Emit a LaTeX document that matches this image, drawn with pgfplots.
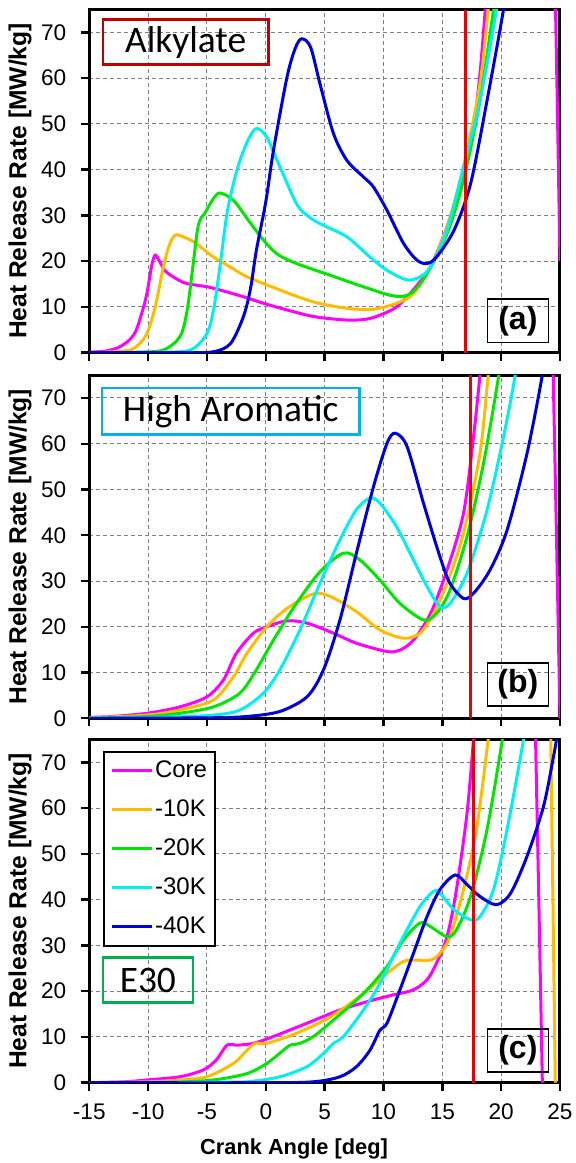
\documentclass[border=0pt]{standalone}
\usepackage{fontspec}
\setmainfont{Liberation Sans}
\newfontfamily\carlito{Carlito}
\usepackage{pgfplots}
\pgfplotsset{compat=1.18}
\definecolor{cCore}{RGB}{255,0,255}
\definecolor{cA}{RGB}{255,188,0}
\definecolor{cB}{RGB}{0,230,0}
\definecolor{cC}{RGB}{0,240,240}
\definecolor{cD}{RGB}{0,0,220}
\definecolor{cRed}{RGB}{235,0,0}
\definecolor{boxA}{RGB}{192,0,0}
\definecolor{boxB}{RGB}{0,176,240}
\definecolor{boxC}{RGB}{0,176,80}
\pgfplotsset{panel/.style={
  scale only axis, width=235.35pt, height=171.6pt, anchor=south west,
  xmin=-15, xmax=25, ymin=0, ymax=75,
  xtick={-15,-10,...,25}, ytick={0,10,...,70},
  xtick pos=left, ytick pos=left,
  tick align=outside, major tick length=4pt,
  axis line style={line width=1.5pt},
  every tick/.style={black, line width=1.2pt},
  grid=major, grid style={gray, dash pattern=on 2pt off 1.5pt, line width=0.5pt},
  ticklabel style={font=\fontsize{11.3}{12}\selectfont},
  yticklabel style={xshift=-4pt},
  xticklabel style={yshift=-3pt},
  /pgf/number format/assume math mode=true,
  ylabel={\bfseries Heat Release Rate [MW/kg]},
  y label style={font=\fontsize{12.3}{14}\selectfont, at={(axis description cs:-0.147,0.5)}, anchor=center},
  no markers,
  every axis plot/.append style={line width=1.5pt, smooth, tension=0.5},
}}
\begin{document}
\begin{tikzpicture}
\useasboundingbox (0,0) rectangle (288pt,581.5pt);
% ---------------- (a) Alkylate
\begin{axis}[panel, at={(44.65pt,405.15pt)}, xticklabels={}]
\addplot[cCore] coordinates {(-15,0.1) (-13.5,0.4) (-12.4,1.3) (-11.5,3) (-11,5) (-10.5,9) (-10.1,13) (-9.7,19) (-9.4,21.3) (-9.0,19.8) (-8.6,18) (-8.3,17.3) (-7.5,16) (-6.7,15.1) (-5,14.4) (-3.9,13.7) (-2,12.3) (-0.2,10.8) (2,9.2) (4.05,7.9) (6,7.3) (7.45,7.1) (8.7,7.4) (9.7,8.2) (11,9.8) (12,12.2) (13,15.2) (14,18.8) (15.4,27.5) (16.8,39) (17.6,48) (18.2,61) (18.65,75) (18.8,80)};
\addplot[cCore, forget plot] coordinates {(24.6,78) (24.8,50) (25,20)};
\addplot[cA] coordinates {(-15,0) (-13,0.2) (-11.5,0.6) (-10.8,1.8) (-10.1,4.2) (-9.4,10) (-8.7,18.8) (-8.2,23.5) (-7.7,25.7) (-7,25.3) (-6,24) (-4.5,21) (-3,18.7) (-1.6,16.6) (1.2,13.7) (4.05,11.1) (6.9,9.7) (9.15,9.5) (11.1,10.8) (12.55,12.9) (14,18.8) (15.4,27.5) (16.8,40.6) (18.2,58.8) (18.9,75) (19.1,80)};
\addplot[cB] coordinates {(-15,0) (-11,0.1) (-8.7,0.6) (-7.3,3.5) (-6.7,9) (-6.2,18.8) (-5.8,27) (-5.5,29.5) (-5.2,30.4) (-4.5,33.5) (-3.9,34.9) (-2.75,33.3) (-1.5,29) (-0.2,24.6) (1,21.5) (2.6,19.5) (5.5,16.9) (8.3,14.4) (10.85,12.4) (12.3,12.9) (13.7,17.3) (15.4,26) (16.8,37.7) (18.2,55.1) (19.35,75) (19.55,80)};
\addplot[cC] coordinates {(-15,0) (-9,0.1) (-6.4,0.6) (-5,4.2) (-4.4,10) (-3.9,18.8) (-3.3,30.4) (-2.7,37.5) (-2.2,42) (-1.5,46.5) (-0.8,49) (0.08,47.1) (1.2,40.6) (2.6,32.6) (3.5,30) (4.6,28.2) (6.9,25.3) (8.85,20.9) (10.3,18) (12,15.9) (13.1,16.6) (14,18.8) (15.4,26.8) (16.8,40.6) (18.2,55.1) (19.6,75) (19.8,80)};
\addplot[cD] coordinates {(-15,0) (-7,0) (-4.45,0.2) (-3,2) (-1.9,7.9) (-1.3,14) (-0.8,22.4) (0,33) (0.65,44.2) (1.8,60.2) (2.5,66.5) (3.05,68.6) (3.8,66.8) (4.6,58.8) (5.75,47.9) (6.9,42) (8.3,38.4) (9.15,36.2) (10.3,31.1) (11.7,23.9) (12.85,20.2) (13.7,19.5) (14.5,20.9) (16,26.8) (17.4,36.9) (18.8,55.1) (20.2,75) (20.4,80)};
\addplot[cRed, line width=1.5pt, sharp plot] coordinates {(17.0,0) (17.0,75)};
\node[draw=boxA, line width=1.3pt, inner sep=0pt, minimum width=82.8pt, minimum height=22.5pt, anchor=north west, font=\carlito\fontsize{18.7}{20}\selectfont] at (axis description cs:0.026,0.974) {Alkylate};
\node[draw=black, line width=0.8pt, inner sep=0pt, minimum width=30.5pt, minimum height=21.7pt, anchor=south east, font=\fontsize{16}{18}\selectfont\bfseries] at (axis description cs:0.977,0.027) {(a)};
\end{axis}
% ---------------- (b) High Aromatic
\begin{axis}[panel, at={(44.65pt,222.35pt)}, xticklabels={}]
\addplot[cCore] coordinates {(-15,0.2) (-13,0.4) (-10.1,1.1) (-7.3,2.5) (-5,4.7) (-3.6,8.4) (-2.5,14.2) (-1.05,18.6) (0.08,20) (1.8,21.3) (3.5,20.8) (5.75,18.6) (7.7,16.4) (10.3,14.6) (11.4,14.9) (12.55,17.1) (14,22.9) (15.4,32.4) (16.8,44.8) (17.65,61.5) (18.2,75) (18.35,80)};
\addplot[cCore, forget plot] coordinates {(24.4,78) (24.7,40) (25,0)};
\addplot[cA] coordinates {(-15,0.1) (-10.1,0.7) (-7.3,1.8) (-4.45,4) (-2.75,9.1) (-1.6,14.2) (0.08,20) (1.8,24) (4.05,27.2) (5.5,26.6) (7.7,23.3) (9.7,19.3) (11.7,17.5) (13.1,18.6) (14.25,22.9) (15.4,29.5) (16.8,40.4) (18.2,57.9) (18.9,75) (19.1,80)};
\addplot[cB] coordinates {(-15,0) (-10,0.4) (-7.3,1.1) (-4.45,2.5) (-2.2,5.5) (-0.8,10.6) (0.65,17.1) (2.6,25.1) (4.6,32) (6.6,36.1) (8,34.6) (9.7,30.2) (11.4,25.1) (13.4,21.5) (14.5,22.9) (15.65,28) (17.1,39.7) (18.5,55.7) (19.8,75) (20,80)};
\addplot[cC] coordinates {(-15,0) (-8,0.3) (-4.45,0.7) (-2.2,1.8) (-0.2,5.5) (1.2,10.6) (2.9,19.3) (4.6,29.5) (6.3,39) (7.7,45.6) (8.85,48.1) (9.7,47) (11.1,41.9) (12.55,34.6) (13.7,28.8) (14.8,24.4) (15.65,25.1) (17.1,31.7) (18.8,45.5) (20.2,61.5) (21.2,75) (21.4,80)};
\addplot[cD] coordinates {(-15,0) (-5,0.1) (-1.6,0.4) (1.2,1.5) (3.5,4.7) (4.9,10.6) (6.3,21.5) (7.7,36.1) (9.15,50.6) (10.3,60.1) (11,62.3) (12,59.4) (13.4,47) (14.8,35.3) (15.65,29.5) (16.8,26.2) (17.65,27.3) (19.05,32.4) (20.5,41.1) (22.2,57.9) (23.5,75) (23.7,80)};
\addplot[cRed, line width=1.5pt, sharp plot] coordinates {(17.37,0) (17.37,75)};
\node[draw=boxB, line width=1.3pt, inner sep=0pt, minimum width=128.8pt, minimum height=23.3pt, anchor=north west, font=\carlito\fontsize{18.7}{20}\selectfont] at (axis description cs:0.024,0.966) {High Aromatic};
\node[draw=black, line width=0.8pt, inner sep=0pt, minimum width=30.5pt, minimum height=21.7pt, anchor=south east, font=\fontsize{16}{18}\selectfont\bfseries] at (axis description cs:0.977,0.033) {(b)};
\end{axis}
% ---------------- (c) E30
\begin{axis}[panel, at={(44.65pt,40.15pt)},
  xlabel={\bfseries Crank Angle [deg]},
  x label style={font=\fontsize{10.9}{12}\selectfont, at={(axis description cs:0.435,-0.192)}, anchor=center},
  legend cell align=left,
  legend style={at={(axis description cs:0.0297,0.966)}, anchor=north west, draw=black, line width=0.8pt,
    font=\fontsize{12}{14}\selectfont, inner xsep=3pt, inner ysep=3pt, row sep=6.5pt,
    nodes={inner sep=1pt, text height=9pt, text depth=2pt}},
  legend image code/.code={\draw[line width=1.5pt] (0pt,0pt) -- (20pt,0pt);},
]
\addplot[cCore] coordinates {(-15,0) (-12,0.2) (-10.1,0.6) (-7.3,1.3) (-5.3,2.8) (-4.2,5) (-3.3,8.2) (-2.5,8.2) (-1.05,8.6) (0.65,10.1) (3.5,13) (6.3,15.9) (9.15,18.1) (10.85,19.2) (12.55,20.3) (13.7,22.5) (14.5,26.1) (15.4,31.9) (16.2,42.2) (17.1,58.9) (17.65,75) (17.8,80)};
\addlegendentry{Core}
\addplot[cCore, forget plot] coordinates {(22.9,78) (23.2,40) (23.5,0)};
\addplot[cA] coordinates {(-15,0) (-10,0.2) (-7.3,0.6) (-5,1.3) (-2.75,4.2) (-1.6,7.1) (-0.9,8.6) (0.08,8.6) (2.6,10.8) (5.5,14.4) (8.3,19.5) (10.3,23.9) (11.7,26.5) (12.55,26.8) (14,26.8) (14.8,28.3) (15.65,31.9) (16.8,42.2) (17.9,55.3) (18.9,75) (19.1,80)};
\addlegendentry{-10K}
\addplot[cA, forget plot] coordinates {(24.2,78) (24.4,40) (24.6,0)};
\addplot[cB] coordinates {(-15,0) (-8,0.1) (-4.45,0.6) (-1.6,2) (0.08,4.2) (1.5,7.1) (2.06,8.2) (2.9,8.6) (4.05,10.1) (5.75,13.7) (8.3,19.5) (10.3,25.4) (11.7,31.2) (13.1,34.9) (14,34.1) (15.4,31.9) (16.2,33.4) (17.4,40.7) (18.8,55.3) (20.1,75) (20.3,80)};
\addlegendentry{-20K}
\addplot[cC] coordinates {(-15,0) (-5,0.1) (-1.6,0.2) (1.2,1.3) (3.5,3.5) (4.9,6.4) (5.75,8.6) (6.6,10.1) (8.3,15.9) (9.7,21.7) (11.4,30.5) (13.1,38.5) (14.25,41.8) (14.8,41.4) (16,37.8) (17.4,35.6) (18.2,36.3) (19.35,42.2) (20.5,55.3) (21.9,75) (22.1,80)};
\addlegendentry{-30K}
\addplot[cD] coordinates {(-15,0) (0,0) (4.05,0.2) (6.3,1.3) (7.7,3.5) (8.85,7.1) (9.7,11.5) (10.3,13) (11.4,20.3) (12.55,28.3) (13.7,36.3) (14.8,42.2) (16.1,45.4) (17.1,43.3) (18.2,40.7) (19.6,38.9) (20.8,41.4) (22.2,49.5) (23.6,60.4) (24.45,71.3) (24.7,75) (24.8,78)};
\addlegendentry{-40K}
\addplot[cRed, line width=1.5pt, sharp plot, forget plot] coordinates {(17.65,0) (17.65,75)};
\node[draw=boxC, line width=1.3pt, inner sep=0pt, minimum width=45pt, minimum height=22.5pt, anchor=north west, font=\carlito\fontsize{18.7}{20}\selectfont] at (axis description cs:0.026,0.368) {E30};
\node[draw=black, line width=0.8pt, inner sep=0pt, minimum width=30.5pt, minimum height=21.7pt, anchor=south east, font=\fontsize{16}{18}\selectfont\bfseries] at (axis description cs:0.977,0.028) {(c)};
\end{axis}
\end{tikzpicture}
\end{document}
